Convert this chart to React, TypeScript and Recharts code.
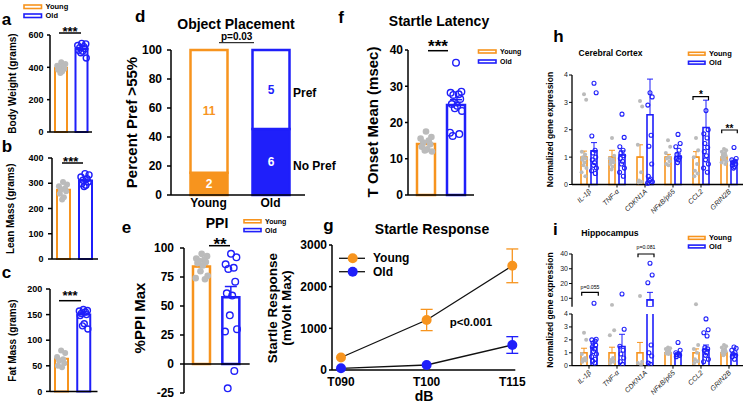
import React from 'react';
import {
  ComposedChart, LineChart, Line, Bar, Scatter, XAxis, YAxis, ErrorBar, Cell, LabelList, ReferenceLine,
} from 'recharts';

const F = '"Liberation Sans", Arial, Helvetica, sans-serif';
const ORANGE = '#F7941E';
const BLUE = '#1F1FFA';
const GREY = '#BBBBBB';
const INK = '#000000';

// ---------------- data ----------------
const GROUPS = ['Young', 'Old'];

const bodyWeightMean = [397, 513];
const bodyWeightYoung = [432, 420, 410, 405, 398, 392, 385, 375, 365];
const bodyWeightOld = [548, 545, 535, 528, 522, 515, 505, 500, 490, 458];

const leanMassMean = [274, 311];
const leanMassYoung = [305, 295, 288, 280, 275, 268, 258, 245, 236];
const leanMassOld = [338, 333, 325, 318, 312, 305, 298, 292, 287];

const fatMassMean = [64, 150];
const fatMassYoung = [80, 75, 67, 63, 60, 55, 50, 47];
const fatMassOld = [160, 158, 157, 155, 152, 150, 148, 132, 128, 122];

const placementNoPref = [15.4, 45.5];
const placementPref = [84.6, 54.5];
const placementNoPrefCount = [2, 6];
const placementPrefCount = [11, 5];

const ppiMean = [84, 57.5];
const ppiErr = [1.8, 9.3];
const ppiYoung = [95, 93, 91, 90, 89, 88, 87, 85, 80, 76, 74, 73];
const ppiOld = [95, 92, 86, 83, 82, 71, 61, 59, 42, 30, 28, -6, -21];

const latencyMean = [14.1, 24.8];
const latencyErr = [0.5, 1.5];
const latencyYoung = [17.5, 16, 15.6, 15, 14.5, 14, 13.3, 12.6, 12.3, 12];
const latencyOld = [36.5, 28.5, 28.2, 27.8, 27.6, 26.5, 25.1, 24.6, 23.9, 23.2, 17.2, 16.8, 16.3];

const DB = ['T090', 'T100', 'T115'];
const startleYoung = [300, 1200, 2500];
const startleYoungErr = [0, 255, 405];
const startleOld = [40, 120, 600];
const startleOldErr = [0, 0, 200];

const GENES = ['IL-1β', 'TNF-α', 'CDKN1A', 'NFκB/p65', 'CCL2', 'GRIN2B'];

const cortexYoungMean = [1, 1, 1, 1, 1, 1];
const cortexYoungErr = [0.22, 0.25, 0.45, 0.1, 0.2, 0.05];
const cortexOldMean = [1.23, 1.08, 2.55, 1.02, 2.08, 0.82];
const cortexOldErr = [0.3, 0.15, 1.3, 0.1, 1.0, 0.07];
const cortexYoungDots = [
  [3.3, 3.1, 1.2, 1.1, 1.0, 0.95, 0.9, 0.8, 0.7, 0.6, 0.45, 0.3],
  [1.7, 1.05, 0.95, 0.9, 0.85, 0.8, 0.75, 0.65, 0.55],
  [3.05, 2.85, 1.45, 0.45, 0.15, 0.1, 0.08],
  [1.62, 1.38, 1.15, 1.0, 0.95, 0.85, 0.75, 0.7],
  [1.7, 1.25, 1.0, 0.75, 0.5, 0.4, 0.3],
  [1.3, 1.25, 1.2, 1.15, 1.1, 1.05, 1.0, 0.95, 0.9, 0.85, 0.8, 0.75],
];
const cortexOldDots = [
  [3.7, 3.35, 1.77, 1.25, 1.15, 1.0, 0.9, 0.8, 0.7, 0.6, 0.5, 0.4],
  [2.57, 1.72, 1.38, 1.25, 1.15, 1.05, 0.95, 0.85, 0.75, 0.6, 0.45, 0.3],
  [3.35, 3.2, 2.9, 1.8, 1.4, 0.75, 0.3, 0.2, 0.15, 0.1, 0.05],
  [1.83, 1.5, 1.38, 1.25, 1.1, 1.0, 0.95, 0.9, 0.8],
  [2.7, 2.0, 1.85, 1.7, 1.5, 1.35, 1.2, 1.05, 0.9, 0.75, 0.6, 0.45],
  [1.35, 0.95, 0.9, 0.85, 0.8, 0.75, 0.7, 0.65, 0.6],
];

const hippoYoungMean = [1, 1, 1, 1, 1, 1];
const hippoYoungErr = [0.35, 0.43, 0.8, 0.12, 0.3, 0.1];
const hippoOldMean = [1.43, 1.48, 8.9, 0.9, 1.25, 0.85];
const hippoOldErr = [0.3, 0.95, 5.1, 0.1, 0.35, 0.1];
const hippoYoungDots = [
  [2.55, 2.0, 0.9, 0.6, 0.5, 0.4, 0.3],
  [5.5, 2.75, 2.35, 0.6, 0.45, 0.3, 0.2],
  [11.5, 0.3, 0.2, 0.1],
  [1.4, 1.35, 1.3, 1.2, 1.1, 1.0, 0.95, 0.9],
  [5.9, 1.6, 1.3, 1.0, 0.5, 0.35, 0.2],
  [1.6, 1.5, 1.4, 1.3, 1.2, 1.1, 1.0, 0.9, 0.8],
];
const hippoOldDots = [
  [6.6, 2.05, 2.0, 1.9, 1.75, 1.6, 1.45, 1.3, 1.1, 0.9, 0.7, 0.5, 0.35, 0.2],
  [12.9, 2.82, 1.5, 1.2, 0.9, 0.6, 0.3, 0.1],
  [33.7, 25.8, 20.5, 1.6, 1.0, 0.75, 0.2, 0.1],
  [1.8, 1.2, 1.0, 0.9, 0.85, 0.8, 0.7],
  [3.62, 2.78, 2.55, 2.3, 1.4, 1.3, 1.2, 1.0, 0.8, 0.5, 0.3],
  [1.45, 1.35, 1.2, 1.0, 0.9, 0.8, 0.7, 0.5],
];

// ---------------- builders ----------------
const pairRows = (means: number[], errs?: number[]) =>
  GROUPS.map((g, i) => ({ g, mean: means[i], err: errs ? errs[i] : 0 }));
const pairDots = (young: number[], old: number[]) => [
  ...young.map((v, k) => ({ g: 'Young', s: 'Y', v, k })),
  ...old.map((v, k) => ({ g: 'Old', s: 'O', v, k })),
];
const geneRows = (ym: number[], ye: number[], om: number[], oe: number[]) =>
  GENES.map((gene, i) => ({ gene, young: ym[i], yErr: ye[i], old: om[i], oErr: oe[i] }));
const geneDots = (dots: number[][], s: string) =>
  dots.flatMap((arr, i) => arr.map((v, k) => ({ gene: GENES[i], s, v, k })));

const placementRows = GROUPS.map((g, i) => ({
  g, noPref: placementNoPref[i], pref: placementPref[i], nNo: placementNoPrefCount[i], nPref: placementPrefCount[i],
}));
const startleRows = DB.map((db, i) => ({
  db, young: startleYoung[i], yErr: startleYoungErr[i], old: startleOld[i], oErr: startleOldErr[i],
}));

// ---------------- helpers ----------------
const P = 6;
function frame(x1: number, y1: number, x2: number, y2: number, yw: number, xh: number, pr: number = P) {
  return {
    left: x1 - yw - P,
    top: y1 - P,
    width: x2 - x1 + yw + P + pr,
    height: y2 - y1 + xh + 2 * P,
    margin: { top: P, right: pr, bottom: P, left: P },
  };
}

const JIT = [0, 0.9, -0.9, 0.45, -0.45, 0.7, -0.7, 0.2, -0.2, 1, -1, 0.55, -0.55, 0.3, -0.3];

function makeDot(spread: number, r: number, offY: number, offO: number, lo: number, hi: number, sw: number) {
  return (p: any) => {
    const { cx, cy, payload } = p;
    if (!payload || !Number.isFinite(cx) || !Number.isFinite(cy)) return <g />;
    if (payload.v < lo || payload.v > hi) return <g />;
    const young = payload.s === 'Y';
    const x = cx + (young ? offY : offO) + JIT[payload.k % JIT.length] * spread;
    return young
      ? <circle cx={x} cy={cy} r={r} fill={GREY} />
      : <circle cx={x} cy={cy} r={r} fill="none" stroke={BLUE} strokeWidth={sw} />;
  };
}

const rowOf = (d: any) => (d && d.payload ? d.payload : d);

function PairChart(props: any) {
  const {
    plot, yw, xh, domain, ticks, rows, dots, barSize, pad, font, tickSize, tickMargin,
    dotR, spread, hideX, zero, strokeW,
  } = props;
  const fr = frame(plot[0], plot[1], plot[2], plot[3], yw, hideX ? 0 : xh);
  return (
    <div style={{ position: 'absolute', left: fr.left, top: fr.top }}>
      <ComposedChart width={fr.width} height={fr.height} margin={fr.margin} data={rows}>
        <XAxis
          dataKey="g" type="category" allowDuplicatedCategory={false} hide={!!hideX} tick={false}
          tickLine={false} height={xh} axisLine={{ stroke: INK, strokeWidth: 1.5 }} padding={pad}
        />
        <YAxis
          type="number" domain={domain} ticks={ticks} width={yw} interval={0}
          tick={{ fontSize: font, fontWeight: 700, fill: INK, fontFamily: F }}
          tickSize={tickSize} tickMargin={tickMargin}
          axisLine={{ stroke: INK, strokeWidth: 1.5 }} tickLine={{ stroke: INK, strokeWidth: 1.5 }}
        />
        {zero ? <ReferenceLine y={0} stroke={INK} strokeWidth={1.5} /> : null}
        <Bar dataKey="mean" barSize={barSize} fill="#fff" strokeWidth={strokeW} isAnimationActive={false}>
          {rows.map((r: any, i: number) => <Cell key={i} stroke={i === 0 ? ORANGE : BLUE} fill="#fff" />)}
          <ErrorBar
            dataKey={(d: any) => { const r = rowOf(d); return r.g === 'Young' && r.err ? [0, r.err] : null; }}
            stroke={ORANGE} width={6} strokeWidth={1.5}
          />
          <ErrorBar
            dataKey={(d: any) => { const r = rowOf(d); return r.g === 'Old' && r.err ? [0, r.err] : null; }}
            stroke={BLUE} width={6} strokeWidth={1.5}
          />
        </Bar>
        <Scatter
          data={dots} dataKey="v" isAnimationActive={false}
          shape={makeDot(spread, dotR, 0, 0, -Infinity, Infinity, 1.4)}
        />
      </ComposedChart>
    </div>
  );
}

function GeneTick(props: any) {
  const { x, y, payload } = props;
  const ax = x + 1;
  const ay = y + 1;
  return (
    <text
      x={ax} y={ay} dy="0.3em" transform={`rotate(-45 ${ax} ${ay})`} textAnchor="end"
      fontSize={7} fontStyle="italic" fill="#222" fontFamily={F}
    >
      {payload.value}
    </text>
  );
}

function GeneChart(props: any) {
  const { plot, domain, ticks, rows, dotsY, dotsO, showX, barMin, errMax, dotLo, dotHi, overflow } = props;
  const xh = showX ? 34 : 0;
  const fr = frame(plot[0], plot[1], plot[2], plot[3], 30, xh, 4);
  const yKey = (d: any) => (d.young >= barMin ? d.young : null);
  const oKey = (d: any) => (d.old >= barMin ? d.old : null);
  return (
    <div style={{ position: 'absolute', left: fr.left, top: fr.top }}>
      <ComposedChart width={fr.width} height={fr.height} margin={fr.margin} data={rows} barGap={4}>
        <XAxis
          dataKey="gene" type="category" allowDuplicatedCategory={false} hide={!showX} height={xh}
          interval={0} tick={(p: any) => <GeneTick {...p} />} tickSize={3}
          tickLine={{ stroke: INK, strokeWidth: 1 }} axisLine={{ stroke: INK, strokeWidth: 1.3 }}
          padding={{ left: 3, right: 0 }}
        />
        <YAxis
          type="number" domain={domain} ticks={ticks} allowDataOverflow={!!overflow} width={30} interval={0}
          tick={{ fontSize: 7, fill: '#222', fontFamily: F }} tickSize={3} tickMargin={1}
          axisLine={{ stroke: INK, strokeWidth: 1.3 }} tickLine={{ stroke: INK, strokeWidth: 1 }}
        />
        <Bar dataKey={yKey} barSize={6} fill="#fff" stroke={ORANGE} strokeWidth={1.6} isAnimationActive={false}>
          <ErrorBar
            dataKey={(d: any) => { const r = rowOf(d); return r.young >= barMin && r.young <= errMax ? [0, r.yErr] : null; }}
            stroke={ORANGE} width={3} strokeWidth={1}
          />
        </Bar>
        <Bar dataKey={oKey} barSize={6} fill="#fff" stroke={BLUE} strokeWidth={1.6} isAnimationActive={false}>
          <ErrorBar
            dataKey={(d: any) => { const r = rowOf(d); return r.old >= barMin && r.old <= errMax ? [0, r.oErr] : null; }}
            stroke={BLUE} width={3} strokeWidth={1}
          />
        </Bar>
        <Scatter data={dotsY} dataKey="v" isAnimationActive={false} shape={makeDot(2.4, 2, -5, 5, dotLo, dotHi, 1.1)} />
        <Scatter data={dotsO} dataKey="v" isAnimationActive={false} shape={makeDot(2.4, 2, -5, 5, dotLo, dotHi, 1.1)} />
      </ComposedChart>
    </div>
  );
}

function segLabel(colorOf: (i: number) => string) {
  return (p: any) => {
    const vb = p.viewBox && p.viewBox.width != null ? p.viewBox : p;
    const { x, y, width, height } = vb;
    return (
      <text
        x={x + width / 2} y={y + height / 2} textAnchor="middle" dominantBaseline="central"
        fontSize={12} fontWeight={700} fill={colorOf(p.index)} fontFamily={F}
      >
        {p.value}
      </text>
    );
  };
}

// ----- overlay helpers -----
const T = (p: any) => (
  <text
    x={p.x} y={p.y} fontSize={p.s} fontWeight={p.w ?? 700} textAnchor={p.a ?? 'middle'}
    dominantBaseline="central" fill={p.c ?? INK} fontFamily={F}
    transform={p.rot ? `rotate(${p.rot} ${p.x} ${p.y})` : undefined}
  >
    {p.children}
  </text>
);
const L = (p: any) => (
  <text x={p.x} y={p.y} fontSize={17} fontWeight={700} fill={INK} fontFamily={F}>{p.children}</text>
);
const Stars = (p: any) => (
  <text x={p.x} y={p.cy + 0.58 * p.s} fontSize={p.s} fontWeight={700} textAnchor="middle" fill={INK} fontFamily={F}>
    {p.t}
  </text>
);
const Leg = (p: any) => (
  <g>
    <rect x={p.x} y={p.y} width={p.w} height={p.h} fill="#fff" stroke={ORANGE} strokeWidth={1.6} />
    <T x={p.x + p.w + 4} y={p.y + p.h / 2} s={p.s} a="start">Young</T>
    <rect x={p.x} y={p.y + p.dy} width={p.w} height={p.h} fill="#fff" stroke={BLUE} strokeWidth={1.6} />
    <T x={p.x + p.w + 4} y={p.y + p.dy + p.h / 2} s={p.s} a="start">Old</T>
  </g>
);

export default function App() {
  const rowsA = pairRows(bodyWeightMean);
  const rowsB = pairRows(leanMassMean);
  const rowsC = pairRows(fatMassMean);
  const rowsE = pairRows(ppiMean, ppiErr);
  const rowsF = pairRows(latencyMean, latencyErr);
  const cortexRows = geneRows(cortexYoungMean, cortexYoungErr, cortexOldMean, cortexOldErr);
  const hippoRows = geneRows(hippoYoungMean, hippoYoungErr, hippoOldMean, hippoOldErr);
  const gd = frame(171, 50, 305, 195, 40, 20);
  const gg = frame(331.7, 245, 515, 370, 40, 22, 22);

  return (
    <div style={{ position: 'absolute', left: 0, top: 0, width: 748, height: 405, overflow: 'hidden', background: '#fff', fontFamily: F }}>
      {/* a */}
      <PairChart
        plot={[50, 35, 92, 132]} yw={40} xh={6} domain={[0, 600]} ticks={[0, 200, 400, 600]}
        rows={rowsA} dots={pairDots(bodyWeightYoung, bodyWeightOld)} barSize={12} pad={{ left: 1, right: 0 }}
        font={9} tickSize={3} tickMargin={3.5} dotR={3} spread={4.5} strokeW={2}
      />
      {/* b */}
      <PairChart
        plot={[52, 158.3, 98, 259.3]} yw={40} xh={6} domain={[0, 400]} ticks={[0, 100, 200, 300, 400]}
        rows={rowsB} dots={pairDots(leanMassYoung, leanMassOld)} barSize={13} pad={{ left: 0, right: 2 }}
        font={9} tickSize={4} tickMargin={4.5} dotR={3} spread={4.5} strokeW={2}
      />
      {/* c */}
      <PairChart
        plot={[49.5, 289.3, 97, 391.7]} yw={40} xh={6} domain={[0, 200]} ticks={[0, 50, 100, 150, 200]}
        rows={rowsC} dots={pairDots(fatMassYoung, fatMassOld)} barSize={13} pad={{ left: 0, right: 3 }}
        font={9} tickSize={4} tickMargin={3.8} dotR={3} spread={4.5} strokeW={2}
      />
      {/* d */}
      <div style={{ position: 'absolute', left: gd.left, top: gd.top }}>
        <ComposedChart width={gd.width} height={gd.height} margin={gd.margin} data={placementRows}>
          <XAxis
            dataKey="g" type="category" interval={0} tickSize={0} tickMargin={3} height={20}
            tick={{ fontSize: 12, fontWeight: 700, fill: INK, fontFamily: F }}
            axisLine={{ stroke: INK, strokeWidth: 1.5 }} padding={{ left: 6.5, right: 3.5 }}
          />
          <YAxis
            type="number" domain={[0, 100]} ticks={[0, 20, 40, 60, 80, 100]} width={40} interval={0}
            tick={{ fontSize: 12, fontWeight: 700, fill: INK, fontFamily: F }} tickSize={4} tickMargin={5}
            axisLine={{ stroke: INK, strokeWidth: 1.5 }} tickLine={{ stroke: INK, strokeWidth: 1.5 }}
          />
          <Bar dataKey="noPref" stackId="s" barSize={37} strokeWidth={2.5} isAnimationActive={false}>
            {placementRows.map((r, i) => <Cell key={i} fill={i === 0 ? ORANGE : BLUE} stroke={i === 0 ? ORANGE : BLUE} />)}
            <LabelList dataKey="nNo" content={segLabel(() => '#fff')} />
          </Bar>
          <Bar dataKey="pref" stackId="s" barSize={37} strokeWidth={2.5} isAnimationActive={false}>
            {placementRows.map((r, i) => <Cell key={i} fill="#fff" stroke={i === 0 ? ORANGE : BLUE} />)}
            <LabelList dataKey="nPref" content={segLabel((i) => (i === 0 ? ORANGE : BLUE))} />
          </Bar>
        </ComposedChart>
      </div>
      {/* e */}
      <PairChart
        plot={[184.3, 248.3, 250, 393.3]} yw={45} xh={0} hideX zero domain={[-25, 100]}
        ticks={[-25, 0, 25, 50, 75, 100]} rows={rowsE} dots={pairDots(ppiYoung, ppiOld)} barSize={17}
        pad={{ left: 3, right: 4 }} font={12} tickSize={4} tickMargin={6} dotR={3.3} spread={6} strokeW={2.5}
      />
      {/* f */}
      <PairChart
        plot={[408, 50, 474, 195]} yw={40} xh={6} domain={[0, 40]} ticks={[0, 10, 20, 30, 40]}
        rows={rowsF} dots={pairDots(latencyYoung, latencyOld)} barSize={18} pad={{ left: 3, right: 3 }}
        font={12} tickSize={3} tickMargin={2} dotR={3.3} spread={6} strokeW={2.5}
      />
      {/* g */}
      <div style={{ position: 'absolute', left: gg.left, top: gg.top }}>
        <LineChart width={gg.width} height={gg.height} margin={gg.margin} data={startleRows}>
          <XAxis
            dataKey="db" type="category" interval={0} tickSize={0} tickMargin={7} height={22}
            tick={{ fontSize: 12, fontWeight: 700, fill: INK, fontFamily: F }}
            axisLine={{ stroke: INK, strokeWidth: 1.5 }} padding={{ left: 9, right: 3 }}
          />
          <YAxis
            type="number" domain={[0, 3000]} ticks={[0, 1000, 2000, 3000]} width={40} interval={0}
            tick={{ fontSize: 12, fontWeight: 700, fill: INK, fontFamily: F }} tickSize={3} tickMargin={2}
            axisLine={{ stroke: INK, strokeWidth: 1.5 }} tickLine={{ stroke: INK, strokeWidth: 1.5 }}
          />
          <Line
            dataKey="young" stroke="#111" strokeWidth={1.3} isAnimationActive={false}
            dot={{ r: 5, fill: ORANGE, stroke: ORANGE, strokeWidth: 0 }}
          >
            <ErrorBar dataKey={(d: any) => { const r = rowOf(d); return r.yErr ? r.yErr : null; }} stroke={ORANGE} width={6} strokeWidth={1.3} />
          </Line>
          <Line
            dataKey="old" stroke="#111" strokeWidth={1.3} isAnimationActive={false}
            dot={{ r: 5, fill: BLUE, stroke: BLUE, strokeWidth: 0 }}
          >
            <ErrorBar dataKey={(d: any) => { const r = rowOf(d); return r.oErr ? r.oErr : null; }} stroke={BLUE} width={6} strokeWidth={1.3} />
          </Line>
        </LineChart>
      </div>
      {/* h */}
      <GeneChart
        plot={[572, 75, 743, 184.5]} domain={[0, 4]} ticks={[0, 1, 2, 3, 4]} rows={cortexRows}
        dotsY={geneDots(cortexYoungDots, 'Y')} dotsO={geneDots(cortexOldDots, 'O')} showX
        barMin={-Infinity} errMax={Infinity} dotLo={-Infinity} dotHi={Infinity}
      />
      {/* i upper */}
      <GeneChart
        plot={[572, 254, 743, 306.7]} domain={[4.3, 40]} ticks={[10, 20, 30, 40]} rows={hippoRows}
        dotsY={geneDots(hippoYoungDots, 'Y')} dotsO={geneDots(hippoOldDots, 'O')} showX={false} overflow
        barMin={4.3} errMax={Infinity} dotLo={4.3} dotHi={Infinity}
      />
      {/* i lower */}
      <GeneChart
        plot={[572, 314, 743, 365.7]} domain={[0, 4]} ticks={[0, 1, 2, 3, 4]} rows={hippoRows}
        dotsY={geneDots(hippoYoungDots, 'Y')} dotsO={geneDots(hippoOldDots, 'O')} showX overflow
        barMin={-Infinity} errMax={4} dotLo={-Infinity} dotHi={4}
      />

      <svg width={748} height={405} style={{ position: 'absolute', left: 0, top: 0, pointerEvents: 'none' }}>
        {/* a */}
        <L x={1.7} y={25}>a</L>
        <Leg x={24} y={5} w={17.5} h={3.5} dy={9} s={7.5} />
        <Stars x={70} cy={28.3} s={13} t="***" />
        <line x1={59} y1={33} x2={81} y2={33} stroke={INK} strokeWidth={1.5} />
        <T x={12} y={83.5} s={10} rot={-90}>Body Weight (grams)</T>
        {/* b */}
        <L x={1.7} y={151.7}>b</L>
        <Stars x={70.7} cy={158} s={13} t="***" />
        <line x1={62} y1={163} x2={83} y2={163} stroke={INK} strokeWidth={1.5} />
        <T x={11} y={208.8} s={10} rot={-90}>Lean Mass (grams)</T>
        {/* c */}
        <L x={1.7} y={278.3}>c</L>
        <Stars x={70} cy={292.7} s={13} t="***" />
        <line x1={59} y1={300.7} x2={81} y2={300.7} stroke={INK} strokeWidth={1.5} />
        <T x={12} y={340.5} s={10} rot={-90}>Fat Mass (grams)</T>
        {/* d */}
        <L x={135} y={21.7}>d</L>
        <T x={236} y={24} s={14}>Object Placement</T>
        <T x={236.7} y={36} s={10}>p=0.03</T>
        <line x1={219} y1={42.7} x2={254} y2={42.7} stroke={INK} strokeWidth={1} />
        <T x={293} y={93} s={12} a="start">Pref</T>
        <T x={293} y={166} s={12} a="start">No Pref</T>
        <T x={131} y={122.5} s={15} rot={-90}>Percent Pref &gt;55%</T>
        {/* e */}
        <L x={121.7} y={233.3}>e</L>
        <T x={217} y={223} s={14}>PPI</T>
        <Leg x={244} y={219.8} w={17} h={3} dy={8.8} s={7} />
        <Stars x={220} cy={240} s={17} t="**" />
        <line x1={209} y1={245.7} x2={230} y2={245.7} stroke={INK} strokeWidth={1.5} />
        <T x={139} y={318} s={15} rot={-90}>%PPI Max</T>
        {/* f */}
        <L x={338.3} y={23.3}>f</L>
        <T x={439} y={21} s={14}>Startle Latency</T>
        <Leg x={478.5} y={50} w={17.5} h={3} dy={10} s={7} />
        <Stars x={438} cy={41.7} s={17} t="***" />
        <line x1={428} y1={50.7} x2={448} y2={50.7} stroke={INK} strokeWidth={1.5} />
        <T x={372} y={122} s={15} rot={-90}>T Onset Mean (msec)</T>
        {/* g */}
        <L x={323.3} y={230.5}>g</L>
        <T x={432} y={229.3} s={14}>Startle Response</T>
        <line x1={339} y1={258.3} x2={365} y2={258.3} stroke="#111" strokeWidth={1.3} />
        <circle cx={352.7} cy={258.3} r={5} fill={ORANGE} />
        <T x={373} y={258.3} s={12} a="start">Young</T>
        <line x1={339} y1={271.7} x2={365} y2={271.7} stroke="#111" strokeWidth={1.3} />
        <circle cx={352.7} cy={271.7} r={5} fill={BLUE} />
        <T x={373} y={271.7} s={12} a="start">Old</T>
        <T x={471} y={321.7} s={11.5}>p&lt;0.001</T>
        <T x={272.5} y={308} s={13.5} rot={-90}>Startle Response</T>
        <T x={286} y={308} s={13.5} rot={-90}>(mVolt Max)</T>
        <T x={424} y={396} s={14}>dB</T>
        {/* h */}
        <L x={553.3} y={41.7}>h</L>
        <T x={610.5} y={52.7} s={8.5}>Cerebral Cortex</T>
        <Leg x={688.5} y={52.3} w={16.5} h={2.8} dy={9} s={7.5} />
        <Stars x={701} cy={91.7} s={10} t="*" />
        <path d="M693,100 V96.7 H708.5 V100" fill="none" stroke={INK} strokeWidth={1.2} />
        <Stars x={729.5} cy={126} s={10} t="**" />
        <path d="M721.7,133.3 V130 H737.3 V133.3" fill="none" stroke={INK} strokeWidth={1.2} />
        <T x={550} y={129.5} s={8.5} rot={-90}>Normalized gene expression</T>
        {/* i */}
        <L x={553} y={235}>i</L>
        <T x={610} y={233} s={8.7}>Hippocampus</T>
        <Leg x={688.5} y={236.5} w={16.5} h={2.8} dy={8.6} s={7.5} />
        <T x={590} y={286.7} s={5.2} w={400}>p=0.055</T>
        <path d="M581.7,295.7 V292.3 H598.3 V295.7" fill="none" stroke={INK} strokeWidth={1.2} />
        <T x={646} y={246.7} s={5.2} w={400}>p=0.081</T>
        <path d="M638,257.3 V254 H654 V257.3" fill="none" stroke={INK} strokeWidth={1.2} />
        <T x={550} y={310} s={8.5} rot={-90}>Normalized gene expression</T>
      </svg>
    </div>
  );
}
